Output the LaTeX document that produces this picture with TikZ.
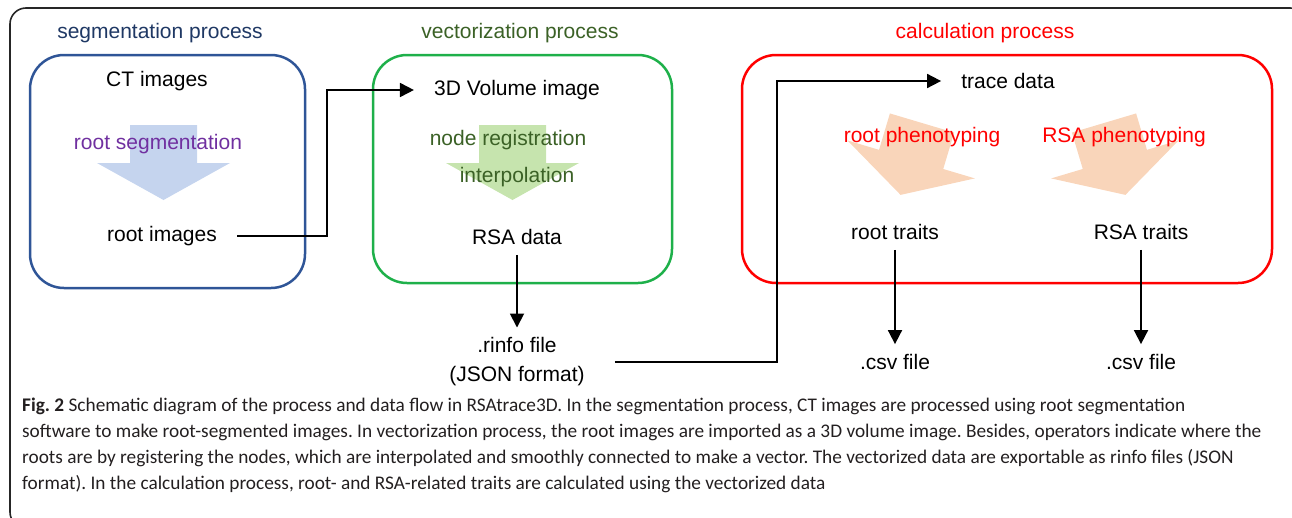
\documentclass[tikz,border=0pt]{standalone}
\usepackage{fontspec}
\setmainfont{Liberation Sans}
\newfontfamily\capfont{Carlito}
\usetikzlibrary{arrows.meta}

\definecolor{segblue}{HTML}{2F5597}
\definecolor{segnavy}{HTML}{1F3864}
\definecolor{segfill}{HTML}{C5D4EE}
\definecolor{segpurple}{HTML}{7030A0}
\definecolor{vecgreen}{HTML}{1EB04A}
\definecolor{vecdark}{HTML}{3B6126}
\definecolor{vecfill}{HTML}{C6E4AE}
\definecolor{calcred}{HTML}{FF0000}
\definecolor{calcfill}{HTML}{F9D5BA}
\definecolor{capgray}{HTML}{231F20}

\tikzset{
  procbox/.style={line width=2.5pt, rounded corners=34pt},
  proctitle/.style={font=\fontsize{21}{25}\selectfont},
  data/.style={font=\fontsize{21}{29}\selectfont, inner xsep=20pt, inner ysep=10pt, align=center},
  step text/.style={font=\fontsize{21}{25}\selectfont, inner sep=1pt},
  flow/.style={-{Triangle[length=14pt,width=14pt]}, line width=1.8pt},
  fatarrow/.pic={
    \fill (-33.5,0) -- (33.5,0) -- (33.5,38) -- (66.5,38) -- (0,75)
      -- (-66.5,38) -- (-33.5,38) -- cycle;
  }
}

\begin{document}
\begin{tikzpicture}[x=1pt,y=-1pt]
  \useasboundingbox (0,0) rectangle (1292,517);
  \clip (0,0) rectangle (1292,517);
  % Frame
  \draw[line width=1.6pt, rounded corners=16pt, black!85] (10,8) rectangle (1306,528);

  % Process boxes
  \draw[procbox, segblue] (30,55) rectangle (305,288);
  \draw[procbox, vecgreen] (373,55) rectangle (672,283);
  \draw[procbox, calcred] (742,55) rectangle (1272,283);

  % Titles
  \node[proctitle, text=segnavy] (segtitle) at (160,33) {segmentation process};
  \node[proctitle, text=vecdark] (vectitle) at (520,33) {vectorization process};
  \node[proctitle, text=calcred] (calctitle) at (985,33) {calculation process};

  % Block arrows
  \pic[fill=segfill] at (163.5,125) {fatarrow};
  \pic[fill=vecfill] at (512.5,125) {fatarrow};
  \pic[fill=calcfill, rotate=-16.6] at (922,123) {fatarrow};
  \pic[fill=calcfill, rotate=16.6] at (1104,123) {fatarrow};

  % Steps
  \node[step text, text=segpurple] (rootseg) at (158,144) {root segmentation};
  \node[step text, text=vecdark] (nodereg) at (508,140) {node registration};
  \node[step text, text=vecdark] (interp) at (517,177) {interpolation};
  \node[step text, text=calcred] (rootphen) at (922,137) {root phenotyping};
  \node[step text, text=calcred] (rsaphen) at (1124,137) {RSA phenotyping};

  % Data
  \node[data] (ct) at (157,81) {CT images};
  \node[data] (rootimg) at (162,236) {root images};
  \node[data] (vol) at (517,90) {3D Volume image};
  \node[data] (rsa) at (517,237) {RSA data};
  \node[data, inner xsep=30pt] (rinfo) at (517,362) {.rinfo file\\(JSON format)};
  \node[data] (trace) at (1008,81) {trace data};
  \node[data] (roottr) at (895,232) {root traits};
  \node[data] (rsatr) at (1141,232) {RSA traits};
  \node[data] (csva) at (895,362) {.csv file};
  \node[data] (csvb) at (1141,362) {.csv file};

  % Flow
  \coordinate (turna) at (327,0);
  \coordinate (turnb) at (777,0);
  \draw[flow] (rootimg.east) -| (turna |- vol) -- (vol.west);
  \draw[flow] (rsa.south) -- (rinfo.north);
  \draw[flow] (rinfo.east) -| (turnb |- trace) -- (trace.west);
  \draw[flow] (roottr.south) -- (csva.north);
  \draw[flow] (rsatr.south) -- (csvb.north);

  % Caption
  \node[anchor=north west, align=left, inner sep=0pt, text=capgray,
        font=\capfont\fontsize{19.3}{26}\selectfont\frenchspacing] (caption) at (22,398)
    {\textbf{Fig.\ 2} Schematic diagram of the process and data flow in RSAtrace3D. In the segmentation process, CT images are processed using root segmentation\\
     software to make root-segmented images. In vectorization process, the root images are imported as a 3D volume image. Besides, operators indicate where the\\
     roots are by registering the nodes, which are interpolated and smoothly connected to make a vector. The vectorized data are exportable as rinfo files (JSON\\
     format). In the calculation process, root- and RSA-related traits are calculated using the vectorized data};
\end{tikzpicture}
\end{document}
